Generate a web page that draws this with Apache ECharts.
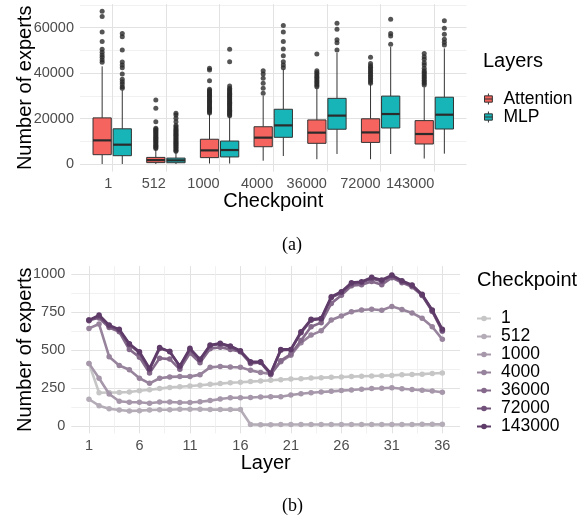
<!DOCTYPE html>
<html>
<head>
<meta charset="utf-8">
<script src="https://cdn.jsdelivr.net/npm/echarts@6/dist/echarts.min.js"></script>
<style>
  html, body { margin: 0; padding: 0; background: #ffffff; }
  #chart { width: 581px; height: 517px; }
</style>
</head>
<body>
<div id="chart"></div>
<script>
// ---------------- (a) box plots ----------------
const checkpoints = ['1', '512', '1000', '4000', '36000', '72000', '143000'];
const layerTypes = ['Attention', 'MLP'];
// [lower whisker, Q1, median, Q3, upper whisker]
const attentionStats = [
  [0, 4100, 10400, 20300, 43000],
  [0, 600, 1700, 2900, 6500],
  [200, 2800, 6000, 10900, 22000],
  [1450, 7600, 11600, 16400, 30000],
  [2100, 9100, 13800, 19400, 33300],
  [2100, 9500, 13900, 19900, 35300],
  [2400, 8800, 13200, 19100, 33800]
];
const mlpStats = [
  [0, 3650, 8500, 15500, 32500],
  [0, 550, 1600, 2600, 5200],
  [200, 3100, 6150, 10100, 20800],
  [3500, 11750, 17000, 24100, 41700],
  [4400, 15300, 21300, 28900, 49000],
  [4400, 15850, 22000, 29900, 51500],
  [4550, 15400, 21700, 29400, 50900]
];
const attentionOutliers = [
  [44800, 45800, 47000, 48000, 49200, 50500, 53900, 58100, 64900, 67200],
  [6800, 7300, 7800, 8300, 8800, 9300, 9800, 10300, 10800, 11300, 11800, 12300, 12800, 13300, 13800, 14300, 14800, 15300, 15700, 18600, 24500, 28200],
  [22500, 23000, 23500, 24000, 24500, 25000, 25500, 26000, 26600, 27100, 27600, 28100, 28600, 29200, 29800, 30300, 30800, 31300, 31800, 32400, 32900, 36700, 41400, 42100],
  [31100, 33300, 35500, 37700, 39600, 41100],
  [34000, 34700, 35400, 36100, 36800, 37500, 38200, 38900, 39600, 40300, 41100, 48400],
  [35600, 36300, 37000, 37700, 38400, 39100, 39800, 40500, 41200, 41900, 42600, 43300, 44300, 47000],
  [34800, 35500, 36200, 36900, 37600, 38300, 39000, 39700, 40400, 41100, 42100, 43600, 44600, 46100, 47200, 48700]
];
const mlpOutliers = [
  [33300, 34000, 35200, 36200, 37300, 39600, 42400, 43600, 44900, 50200, 56000, 57500],
  [5600, 6100, 6600, 7100, 7600, 8100, 8600, 9100, 9600, 10100, 10600, 11100, 11600, 12100, 12600, 13100, 13600, 14100, 14600, 15100, 15600, 16400, 17000, 18600, 20100, 21600, 22300],
  [21200, 21700, 22200, 22700, 23200, 23700, 24200, 24700, 25200, 25700, 26200, 26700, 27200, 27700, 28200, 28700, 29200, 29700, 30200, 30700, 31200, 31700, 32300, 32800, 33300, 34300, 45000, 50500],
  [42400, 43600, 45000, 47700, 50600, 53900, 58100, 61000],
  [50200, 53400, 54700, 59300, 62000],
  [52700, 56400, 57500, 63700],
  [52400, 53600, 54900, 57100, 59800, 63100]
];
const boxTicks = [0, 20000, 40000, 60000];

// ---------------- (b) line chart ----------------
const layers = [1, 2, 3, 4, 5, 6, 7, 8, 9, 10, 11, 12, 13, 14, 15, 16, 17, 18, 19, 20, 21, 22, 23, 24, 25, 26, 27, 28, 29, 30, 31, 32, 33, 34, 35, 36];
const ckptNames = ['1', '512', '1000', '4000', '36000', '72000', '143000'];
const ckpt1 = [414, 221, 222, 223, 226, 234, 240, 248, 256, 260, 265, 270, 276, 281, 287, 290, 294, 298, 303, 307, 311, 313, 317, 320, 322, 324, 327, 329, 331, 333, 335, 339, 341, 343, 347, 351];
const ckpt512 = [178, 136, 116, 107, 101, 103, 107, 109, 109, 112, 112, 112, 110, 110, 110, 110, 12, 11, 11, 12, 12, 12, 12, 12, 12, 12, 12, 12, 12, 12, 12, 12, 12, 13, 13, 13];
const ckpt1000 = [414, 316, 213, 165, 158, 158, 152, 160, 160, 157, 157, 162, 169, 180, 188, 188, 190, 193, 195, 195, 206, 214, 221, 226, 230, 235, 239, 244, 248, 250, 254, 247, 242, 238, 232, 224];
const ckpt4000 = [644, 673, 458, 400, 372, 316, 283, 316, 325, 327, 327, 340, 388, 394, 390, 388, 368, 354, 345, 425, 468, 550, 600, 628, 699, 726, 754, 765, 770, 763, 789, 768, 746, 711, 655, 572];
const ckpt36000 = [700, 712, 650, 622, 505, 455, 350, 448, 442, 375, 482, 418, 510, 520, 506, 490, 414, 420, 340, 432, 475, 565, 655, 682, 808, 862, 925, 932, 952, 932, 978, 945, 918, 860, 756, 626];
const ckpt72000 = [695, 722, 660, 632, 538, 484, 372, 512, 493, 392, 506, 436, 530, 542, 524, 492, 420, 421, 346, 500, 504, 615, 698, 706, 846, 880, 938, 946, 972, 955, 990, 952, 926, 864, 760, 632];
const ckpt143000 = [699, 732, 666, 638, 543, 491, 381, 519, 491, 397, 513, 441, 535, 546, 528, 497, 425, 425, 349, 506, 506, 622, 704, 710, 853, 886, 945, 951, 980, 963, 995, 958, 930, 868, 765, 638];
const ckptValues = [ckpt1, ckpt512, ckpt1000, ckpt4000, ckpt36000, ckpt72000, ckpt143000];
const lineTicks = [0, 250, 500, 750, 1000];
const layerTicks = [1, 6, 11, 16, 21, 26, 31, 36];

// ---------------- styling ----------------
const FONT = '"Liberation Sans", Arial, Helvetica, sans-serif';
const boxColors = ['#F5645F', '#17B5B8'];
const lineColors = ['#C6C6C6', '#B4ACB7', '#A698AA', '#97839C', '#84698B', '#71507A', '#5E3B68'];
const GRID_MAJOR = '#E2E2E2';
const GRID_MINOR = '#EEEEEE';
const BOX_W = 0.34;
const DODGE = 0.1875;

function boxRenderer(offset) {
  return function (params, api) {
    const x = api.value(0) + offset;
    const lo = api.coord([x, api.value(1)]);
    const q1 = api.coord([x, api.value(2)]);
    const md = api.coord([x, api.value(3)]);
    const q3 = api.coord([x, api.value(4)]);
    const hi = api.coord([x, api.value(5)]);
    const left = api.coord([x - BOX_W / 2, 0])[0];
    const right = api.coord([x + BOX_W / 2, 0])[0];
    const fill = api.visual('color');
    const ls = { stroke: '#333333', lineWidth: 1 };
    return {
      type: 'group',
      children: [
        { type: 'line', shape: { x1: lo[0], y1: lo[1], x2: q1[0], y2: q1[1] }, style: ls },
        { type: 'line', shape: { x1: q3[0], y1: q3[1], x2: hi[0], y2: hi[1] }, style: ls },
        { type: 'rect', shape: { x: left, y: q3[1], width: right - left, height: q1[1] - q3[1] },
          style: { fill: fill, stroke: '#333333', lineWidth: 1 } },
        { type: 'line', shape: { x1: left, y1: md[1], x2: right, y2: md[1] },
          style: { stroke: '#2b2b2b', lineWidth: 2.2 } }
      ]
    };
  };
}

function statsData(stats) {
  return stats.map((s, i) => [i + 1, s[0], s[1], s[2], s[3], s[4]]);
}
function outlierData(outs, offset) {
  const res = [];
  outs.forEach((arr, i) => arr.forEach(v => res.push([i + 1 + offset, v])));
  return res;
}

const tickLabel = { color: '#4D4D4D', fontSize: 14.5, fontFamily: FONT };
const axisTitle = { color: '#000000', fontSize: 20, fontFamily: FONT };

const chart = echarts.init(document.getElementById('chart'), null, { renderer: 'canvas' });

const series = [];
series.push({
  name: layerTypes[0], type: 'custom', xAxisIndex: 0, yAxisIndex: 0,
  itemStyle: { color: boxColors[0] },
  encode: { x: 0, y: [1, 2, 3, 4, 5] },
  renderItem: boxRenderer(-DODGE), data: statsData(attentionStats), z: 3
});
series.push({
  name: layerTypes[1], type: 'custom', xAxisIndex: 0, yAxisIndex: 0,
  itemStyle: { color: boxColors[1] },
  encode: { x: 0, y: [1, 2, 3, 4, 5] },
  renderItem: boxRenderer(DODGE), data: statsData(mlpStats), z: 3
});
series.push({
  name: 'attnOut', type: 'scatter', xAxisIndex: 0, yAxisIndex: 0,
  symbol: 'circle', symbolSize: 5, itemStyle: { color: '#2b2b2b' },
  data: outlierData(attentionOutliers, -DODGE), z: 4, silent: true
});
series.push({
  name: 'mlpOut', type: 'scatter', xAxisIndex: 0, yAxisIndex: 0,
  symbol: 'circle', symbolSize: 5, itemStyle: { color: '#2b2b2b' },
  data: outlierData(mlpOutliers, DODGE), z: 4, silent: true
});
ckptNames.forEach((name, k) => {
  series.push({
    name: name, type: 'line', xAxisIndex: 1, yAxisIndex: 1,
    data: layers.map((l, i) => [l, ckptValues[k][i]]),
    symbol: 'circle', symbolSize: 5.5, showAllSymbol: true,
    lineStyle: { width: 2.6, color: lineColors[k] },
    itemStyle: { color: lineColors[k] },
    z: 3 + k
  });
});

const option = {
  animation: false,
  backgroundColor: '#ffffff',
  textStyle: { fontFamily: FONT },
  title: [
    { text: 'Layers', left: 483, top: 51, padding: 0,
      textStyle: { fontSize: 20, fontWeight: 'normal', color: '#000', fontFamily: FONT } },
    { text: 'Checkpoint', left: 477, top: 270, padding: 0,
      textStyle: { fontSize: 20, fontWeight: 'normal', color: '#000', fontFamily: FONT } },
    { text: '(a)', left: 282, top: 236, padding: 0,
      textStyle: { fontSize: 18, fontWeight: 'normal', color: '#000', fontFamily: '"Liberation Serif", "Times New Roman", serif' } },
    { text: '(b)', left: 282, top: 497, padding: 0,
      textStyle: { fontSize: 18, fontWeight: 'normal', color: '#000', fontFamily: '"Liberation Serif", "Times New Roman", serif' } }
  ],
  legend: [
    {
      data: layerTypes.map(n => ({ name: n, icon: 'path://M0,3L10,3L10,11L0,11Z M0,7L10,7 M5,0L5,3 M5,11L5,14' })),
      orient: 'vertical', left: 484, top: 90, padding: 0, itemGap: 0,
      itemWidth: 14, itemHeight: 11,
      itemStyle: { borderColor: '#333333', borderWidth: 1 },
      textStyle: { fontSize: 17.5, color: '#000', fontFamily: FONT, lineHeight: 17.7, padding: [0, 0, 0, 3] },
      selectedMode: false
    },
    {
      data: ckptNames,
      orient: 'vertical', left: 476, top: 309.5, padding: 0, itemGap: 0,
      itemWidth: 14, itemHeight: 7,
      textStyle: { fontSize: 17.5, color: '#000', fontFamily: FONT, lineHeight: 17.5, padding: [0, 0, 0, 5] },
      selectedMode: false
    }
  ],
  grid: [
    { left: 80, top: 4.1, width: 386.5, height: 167.5 },
    { left: 71.3, top: 266.1, width: 388.7, height: 167.2 },
    { left: 89, top: 266.1, width: 371, height: 167.2 }
  ],
  xAxis: [
    {
      gridIndex: 0, type: 'value', min: 0.4, max: 7.6, minInterval: 1, maxInterval: 1, splitNumber: 7,
      name: 'Checkpoint', nameLocation: 'middle', nameGap: 20, nameMoveOverlap: false, nameTextStyle: axisTitle,
      axisLine: { show: false }, axisTick: { show: false },
      axisLabel: Object.assign({}, tickLabel, {
        margin: 5, align: 'right', showMinLabel: false, showMaxLabel: false,
        formatter: v => (Number.isInteger(v) && v >= 1 && v <= checkpoints.length) ? checkpoints[v - 1] : ''
      }),
      splitLine: { show: true, showMinLine: false, showMaxLine: false, lineStyle: { color: GRID_MAJOR, width: 1 } }
    },
    {
      gridIndex: 1, type: 'value', min: -0.75, max: 37.75,
      name: 'Layer', nameLocation: 'middle', nameGap: 20, nameMoveOverlap: false, nameTextStyle: axisTitle,
      axisLine: { show: false }, axisTick: { show: false }, axisLabel: { show: false },
      splitLine: { show: false }
    },
    {
      gridIndex: 2, type: 'value', min: layerTicks[0], max: 37.75, interval: 5,
      axisLine: { show: false }, axisTick: { show: false },
      axisLabel: Object.assign({}, tickLabel, { margin: 5, showMaxLabel: false, formatter: v => String(v) }),
      splitLine: { show: true, showMaxLine: false, lineStyle: { color: GRID_MAJOR, width: 1 } },
      minorTick: { show: false, splitNumber: 2 },
      minorSplitLine: { show: true, lineStyle: { color: GRID_MINOR, width: 0.8 } }
    }
  ],
  yAxis: [
    {
      gridIndex: 0, type: 'value', min: -3350, max: 70400, minInterval: 20000, maxInterval: 20000, splitNumber: 4,
      name: 'Number of experts', nameLocation: 'middle', nameGap: 45, nameMoveOverlap: false, nameTextStyle: axisTitle,
      axisLine: { show: false }, axisTick: { show: false },
      axisLabel: Object.assign({}, tickLabel, { margin: 6, showMinLabel: false, showMaxLabel: false,
        formatter: v => boxTicks.indexOf(v) >= 0 ? String(v) : '' }),
      splitLine: { show: true, showMinLine: false, showMaxLine: false, lineStyle: { color: GRID_MAJOR, width: 1 } },
      minorTick: { show: false, splitNumber: 2 },
      minorSplitLine: { show: true, lineStyle: { color: GRID_MINOR, width: 0.8 } }
    },
    {
      gridIndex: 1, type: 'value', min: -46, max: 1054, minInterval: 250, maxInterval: 250, splitNumber: 4,
      name: 'Number of experts', nameLocation: 'middle', nameGap: 36, nameMoveOverlap: false, nameTextStyle: axisTitle,
      axisLine: { show: false }, axisTick: { show: false },
      axisLabel: Object.assign({}, tickLabel, { margin: 6, showMinLabel: false, showMaxLabel: false,
        formatter: v => lineTicks.indexOf(v) >= 0 ? String(v) : '' }),
      splitLine: { show: true, showMinLine: false, showMaxLine: false, lineStyle: { color: GRID_MAJOR, width: 1 } },
      minorTick: { show: false, splitNumber: 2 },
      minorSplitLine: { show: true, lineStyle: { color: GRID_MINOR, width: 0.8 } }
    },
    {
      gridIndex: 2, type: 'value', min: -46, max: 1054, show: false
    }
  ],
  series: series
};
chart.setOption(option);
</script>
</body>
</html>
